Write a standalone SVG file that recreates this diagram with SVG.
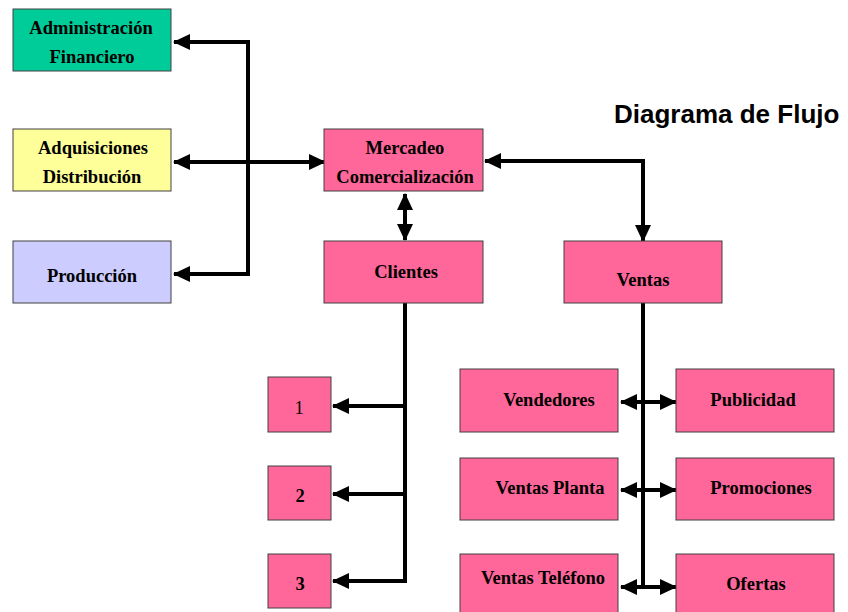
<svg xmlns="http://www.w3.org/2000/svg" width="848" height="612" viewBox="0 0 848 612">
<style>
.box{stroke:#404040;stroke-width:1}
.pink{fill:#FF6699}
.t{font-family:"Liberation Serif","Times New Roman",serif;font-weight:bold;font-size:18.5px;fill:#000;text-anchor:middle}
.c{fill:none;stroke:#000;stroke-width:4}
.title{font-family:"Liberation Sans",Arial,sans-serif;font-weight:bold;font-size:26px;fill:#000}
</style>
<defs>
<marker id="ah" markerUnits="userSpaceOnUse" viewBox="0 0 17 16" refX="16" refY="8" markerWidth="17" markerHeight="16" orient="auto-start-reverse">
<path d="M0,0 L17,8 L0,16 Z" fill="#000"/>
</marker>
</defs>
<rect width="848" height="612" fill="#fff"/>
<text class="title" x="614" y="123">Diagrama de Flujo</text>
<g id="connectors">
<path class="c" d="M248,40 V276"/>
<path class="c" d="M250,42 H174" marker-end="url(#ah)"/>
<path class="c" d="M250,274 H174" marker-end="url(#ah)"/>
<path class="c" d="M174,162 H325" marker-start="url(#ah)" marker-end="url(#ah)"/>
<path class="c" d="M485,161 H643 V241" marker-start="url(#ah)" marker-end="url(#ah)"/>
<path class="c" d="M405,194 V240" marker-start="url(#ah)" marker-end="url(#ah)"/>
<path class="c" d="M405,303 V583"/>
<path class="c" d="M407,406 H333" marker-end="url(#ah)"/>
<path class="c" d="M407,494 H333" marker-end="url(#ah)"/>
<path class="c" d="M407,581 H333" marker-end="url(#ah)"/>
<path class="c" d="M643,303 V586"/>
<path class="c" d="M621,402 H676" marker-start="url(#ah)" marker-end="url(#ah)"/>
<path class="c" d="M621,490 H676" marker-start="url(#ah)" marker-end="url(#ah)"/>
<path class="c" d="M621,587 H676" marker-start="url(#ah)" marker-end="url(#ah)"/>
</g>
<g id="admin"><rect class="box" x="13" y="9" width="158" height="62" fill="#00CC99"/><text class="t" x="91" y="34">Administración</text><text class="t" x="92" y="63">Financiero</text></g>
<g id="adquisiciones"><rect class="box" x="13" y="129" width="158" height="62" fill="#FFFF99"/><text class="t" x="93" y="154">Adquisiciones</text><text class="t" x="92" y="183">Distribución</text></g>
<g id="produccion"><rect class="box" x="13" y="241" width="158" height="62" fill="#CCCCFF"/><text class="t" x="92" y="282">Producción</text></g>
<g id="mercadeo"><rect class="box pink" x="324" y="129" width="159" height="62"/><text class="t" x="405" y="154">Mercadeo</text><text class="t" x="405" y="183">Comercialización</text></g>
<g id="clientes"><rect class="box pink" x="324" y="241" width="159" height="62"/><text class="t" x="406" y="278">Clientes</text></g>
<g id="ventas"><rect class="box pink" x="564" y="241" width="158" height="62"/><text class="t" x="643" y="286">Ventas</text></g>
<g id="n1"><rect class="box pink" x="268" y="377" width="63" height="55"/><text class="t" x="299" y="414" style="font-weight:normal">1</text></g>
<g id="n2"><rect class="box pink" x="268" y="466" width="63" height="54"/><text class="t" x="300" y="502">2</text></g>
<g id="n3"><rect class="box pink" x="268" y="554" width="63" height="54"/><text class="t" x="300" y="590">3</text></g>
<g id="vendedores"><rect class="box pink" x="460" y="369" width="158" height="63"/><text class="t" x="549" y="406">Vendedores</text></g>
<g id="ventasplanta"><rect class="box pink" x="460" y="458" width="158" height="62"/><text class="t" x="550" y="494">Ventas Planta</text></g>
<g id="ventastelefono"><rect class="box pink" x="460" y="554" width="158" height="62"/><text class="t" x="543" y="584">Ventas Teléfono</text></g>
<g id="publicidad"><rect class="box pink" x="676" y="369" width="158" height="63"/><text class="t" x="753" y="406">Publicidad</text></g>
<g id="promociones"><rect class="box pink" x="676" y="458" width="158" height="62"/><text class="t" x="761" y="494">Promociones</text></g>
<g id="ofertas"><rect class="box pink" x="676" y="554" width="158" height="62"/><text class="t" x="756" y="590">Ofertas</text></g>
</svg>
